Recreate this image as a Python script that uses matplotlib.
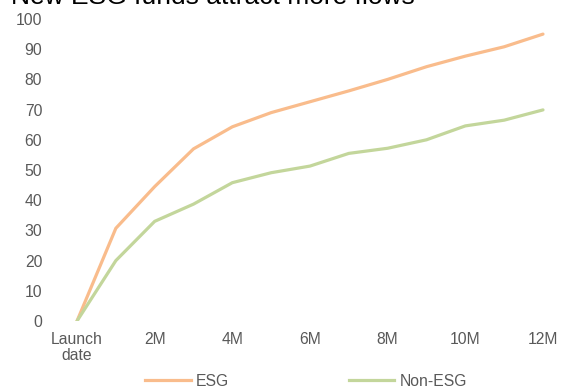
import matplotlib
matplotlib.use("Agg")
import matplotlib.pyplot as plt
from matplotlib.lines import Line2D

plt.rcParams['font.family'] = ['Liberation Sans', 'DejaVu Sans']

months = list(range(13))
tick_positions = [0, 2, 4, 6, 8, 10, 12]
tick_labels = ["Launch\ndate", "2M", "4M", "6M", "8M", "10M", "12M"]
esg = [0, 30.7, 44.5, 57, 64.3, 69, 72.6, 76.2, 80, 84.2, 87.7, 90.8, 95]
non_esg = [0, 20, 33, 38.7, 45.8, 49.1, 51.3, 55.5, 57.2, 60, 64.6, 66.5, 69.9]
title = "New ESG funds attract more flows"

esg_color = "#F9BC8C"
non_color = "#C3D69B"
text_color = "#595959"
fs = 11.3

fig = plt.figure(figsize=(5.63, 3.89), dpi=100)
ax = fig.add_axes([57.6/563, 1-321/389, (562.4-57.6)/563, (321-19)/389])
ax.plot(months, esg, color=esg_color, lw=2.3, solid_capstyle='round', label="ESG")
ax.plot(months, non_esg, color=non_color, lw=2.3, solid_capstyle='round', label="Non-ESG")
ax.set_xlim(-0.5, 12.5)
ax.set_ylim(0, 100)
ax.set_yticks(range(0, 101, 10))
ax.set_xticks(tick_positions)
ax.set_xticklabels(tick_labels)
for s in ax.spines.values():
    s.set_visible(False)
ax.tick_params(axis='y', length=0, pad=11, labelsize=fs, labelcolor=text_color)
ax.tick_params(axis='x', length=0, pad=8, labelsize=fs, labelcolor=text_color)
for lbl in ax.get_xticklabels():
    lbl.set_linespacing(1.1)

handles = [Line2D([0], [0], color=esg_color, lw=2.3), Line2D([0], [0], color=non_color, lw=2.3)]
fig.legend(handles, ["ESG", "Non-ESG"], loc='center', bbox_to_anchor=(306/563, 1-381/389),
           ncol=2, frameon=False, fontsize=fs, labelcolor=text_color,
           handlelength=2.9, columnspacing=7.6, handletextpad=0.35,
           borderpad=0, borderaxespad=0)

fig.text(11/563, 1-4/389, title, fontsize=19, color="black", va='baseline', ha='left')

fig.savefig("out.png", dpi=100)
